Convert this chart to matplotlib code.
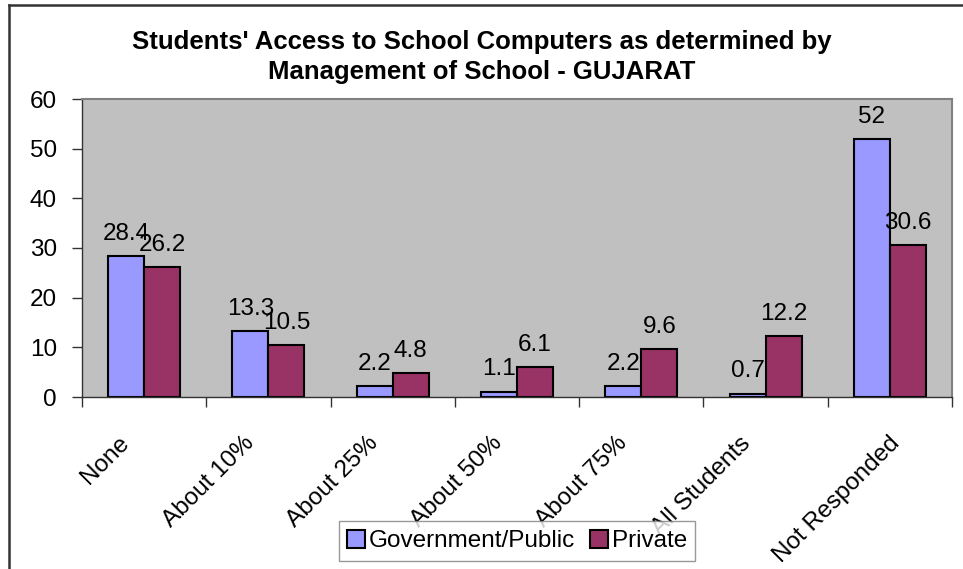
import matplotlib
matplotlib.use("Agg")
import matplotlib.pyplot as plt
import matplotlib.transforms as mtransforms
from matplotlib.lines import Line2D
import numpy as np

plt.rcParams['font.family'] = ['Liberation Sans', 'DejaVu Sans']

categories = ["None", "About 10%", "About 25%", "About 50%", "About 75%",
              "All Students", "Not Responded"]
government = [28.4, 13.3, 2.2, 1.1, 2.2, 0.7, 52]
private = [26.2, 10.5, 4.8, 6.1, 9.6, 12.2, 30.6]
series_names = ["Government/Public", "Private"]
title = "Students' Access to School Computers as determined by\nManagement of School - GUJARAT"

fs = 17.5

fig = plt.figure(figsize=(9.63, 5.69), dpi=100)
ax = fig.add_axes([82 / 963, 1 - 397 / 569, 870 / 963, 298 / 569])
ax.set_facecolor("#C0C0C0")

x = np.arange(len(categories))
w = 0.29
b1 = ax.bar(x - w / 2, government, w, color="#9999FF", edgecolor="black",
            linewidth=1.5, label=series_names[0])
b2 = ax.bar(x + w / 2, private, w, color="#993366", edgecolor="black",
            linewidth=1.5, label=series_names[1])

for bars, vals in ((b1, government), (b2, private)):
    for rect, v in zip(bars, vals):
        ax.annotate(f"{v:g}", (rect.get_x() + rect.get_width() / 2, v),
                    xytext=(0, 8), textcoords="offset points",
                    ha="center", va="bottom", fontsize=fs)

ax.set_xlim(-0.5, len(categories) - 0.5)
ax.set_ylim(0, 60)
ax.set_yticks(range(0, 61, 10))
ax.tick_params(axis="y", labelsize=fs, length=7, width=1, direction="out",
               color="#333333", pad=11)
ax.set_xticks(np.arange(-0.5, len(categories), 1.0))
ax.set_xticklabels([])
ax.tick_params(axis="x", length=7, width=1, direction="out", color="#333333")

for s in ("left", "bottom"):
    ax.spines[s].set_color("#333333")
    ax.spines[s].set_linewidth(1)
for s in ("top", "right"):
    ax.spines[s].set_color("#808080")
    ax.spines[s].set_linewidth(1.5)

# rotated category labels, ending just left of the category centre;
# the last one sits a little further right, as in the original
for i, lab in enumerate(categories):
    dx = -13 if i < len(categories) - 1 else 5
    off = mtransforms.ScaledTranslation(dx / 72, -31 / 72, fig.dpi_scale_trans)
    ax.text(i, 0, lab, rotation=45, rotation_mode="anchor", ha="right",
            va="center", fontsize=fs,
            transform=ax.get_xaxis_transform() + off)

fig.text(0.5, 1 - 57 / 569, title, fontsize=18.5, fontweight="bold",
         ha="center", va="center", linespacing=1.3)

leg = fig.legend(loc="center", bbox_to_anchor=(517 / 963, 1 - 541 / 569),
                 ncol=2, fontsize=fs, frameon=True, fancybox=False,
                 edgecolor="#808080", handlelength=0.75, handleheight=0.75,
                 handletextpad=0.15, columnspacing=0.6, borderpad=0.35)
leg.get_frame().set_linewidth(1)

# outer chart border (cropped: only left and top visible)
fig.add_artist(Line2D([8.5 / 963, 8.5 / 963], [0, 1 - 4.5 / 569],
                      color="#333333", linewidth=1.8))
fig.add_artist(Line2D([8.5 / 963, 1], [1 - 4.5 / 569, 1 - 4.5 / 569],
                      color="#333333", linewidth=1.8))

fig.savefig("out.png", dpi=100)
